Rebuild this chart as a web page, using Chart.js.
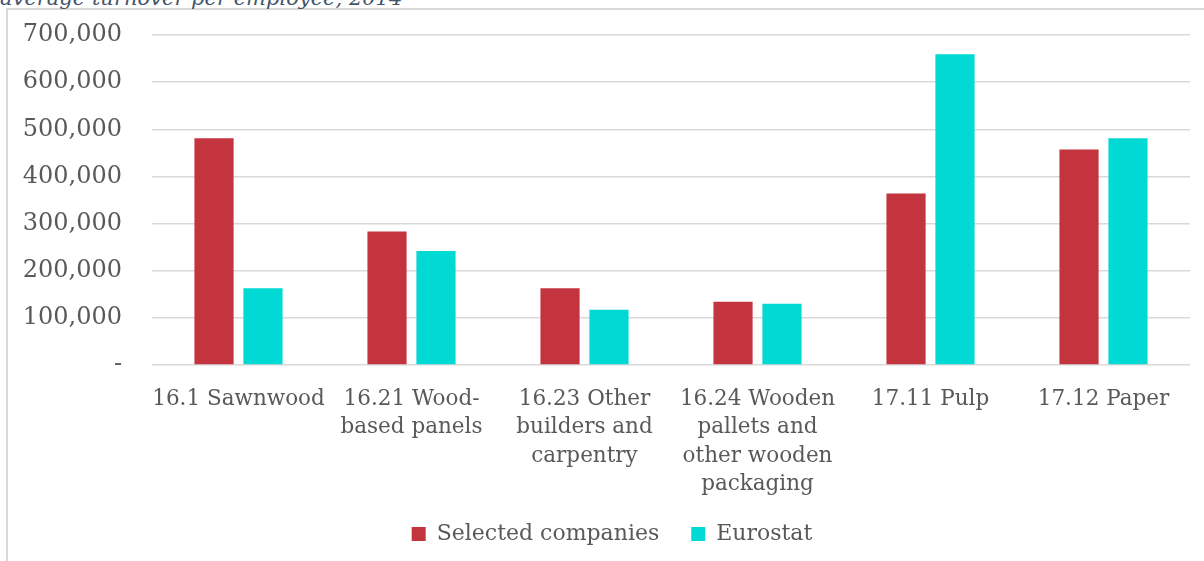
<!DOCTYPE html>
<html>
<head>
<meta charset="utf-8">
<script src="https://cdn.jsdelivr.net/npm/chart.js@4/dist/chart.umd.min.js"></script>
<style>
  html, body { margin: 0; padding: 0; background: #fff; overflow: hidden; }
  #wrap { position: relative; width: 1204px; height: 561px; overflow: hidden; }
  #frame { position: absolute; left: 6px; top: 8px; width: 1300px; height: 700px;
           border: 2px solid #d9d9d9; box-sizing: border-box; }
  #heading { position: absolute; left: 0; top: -14px; font-family: "DejaVu Serif", serif;
             font-style: italic; font-size: 21px; color: #44546a; white-space: nowrap; }
  #c { position: absolute; left: 0; top: 0; }
</style>
</head>
<body>
<div id="wrap">
  <div id="frame"></div>
  <div id="heading">average turnover per employee, 2014</div>
  <canvas id="c" width="1204" height="561"></canvas>
</div>
<script>
// NACE sectors, wrapped the way they appear under the axis
const categories = [
  ["16.1 Sawnwood"],
  ["16.21 Wood-", "based panels"],
  ["16.23 Other", "builders and", "carpentry"],
  ["16.24 Wooden", "pallets and", "other wooden", "packaging"],
  ["17.11 Pulp"],
  ["17.12 Paper"]
];
// average turnover per employee (EUR), 2014
const selectedCompanies = [481000, 283000, 163000, 134000, 364000, 457000];
const eurostat = [163000, 242000, 117000, 130000, 659000, 481000];
const yTicks = [0, 100000, 200000, 300000, 400000, 500000, 600000, 700000];

const textGrey = '#595959';
const serif = '"DejaVu Serif", serif';

// nudge the legend row: a little right and up from its default slot
const legendNudge = {
  id: 'legendNudge',
  afterLayout(chart) {
    const lg = chart.legend;
    if (!lg) return;
    lg.left += 34;
    lg.top -= 6;
    lg.bottom -= 6;
  }
};

new Chart(document.getElementById('c'), {
  type: 'bar',
  data: {
    labels: categories,
    datasets: [
      { label: 'Selected companies', data: selectedCompanies, backgroundColor: '#c3343f',
        categoryPercentage: 0.566, barPercentage: 0.8 },
      { label: 'Eurostat', data: eurostat, backgroundColor: '#00d9d4',
        categoryPercentage: 0.566, barPercentage: 0.8 }
    ]
  },
  plugins: [legendNudge],
  options: {
    responsive: false,
    animation: false,
    layout: { padding: { top: 35, right: 14, bottom: 0, left: 0 } },
    plugins: {
      tooltip: { enabled: false },
      legend: {
        position: 'bottom',
        labels: {
          color: textGrey, font: { family: serif, size: 22 },
          boxWidth: 14, boxHeight: 14, padding: 32
        }
      }
    },
    scales: {
      x: {
        afterFit: (s) => { s.height = 132; },
        grid: { display: false },
        border: { display: false },
        ticks: { color: textGrey, font: { family: serif, size: 21.5, lineHeight: 1.32 },
                 padding: 12, maxRotation: 0, autoSkip: false }
      },
      y: {
        min: 0, max: 700000,
        afterFit: (s) => { s.width = 152; s.paddingTop = 0; s.paddingBottom = 0; },
        afterBuildTicks: (s) => { s.ticks = yTicks.map(v => ({ value: v })); },
        grid: { color: '#d9d9d9', lineWidth: 1.5, drawTicks: false },
        border: { display: false },
        ticks: {
          color: textGrey, font: { family: serif, size: 24 }, padding: 30,
          callback: (v) => v === 0 ? '-' : v.toLocaleString('en-US')
        }
      }
    }
  }
});
</script>
</body>
</html>
